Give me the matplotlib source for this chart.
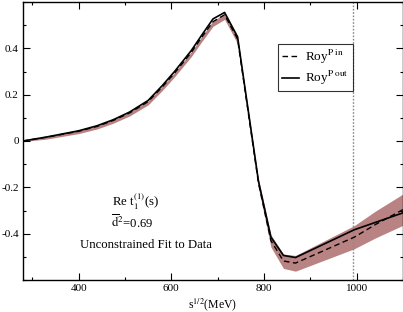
import matplotlib
matplotlib.use("Agg")
import matplotlib.pyplot as plt
from matplotlib.ticker import MultipleLocator, FuncFormatter

plt.rcParams['font.family'] = ['Liberation Serif', 'DejaVu Serif']
plt.rcParams['mathtext.fontset'] = 'stix'

# Roy P out (solid)
x_out = [280, 330, 400, 440, 475, 510, 550, 580, 607, 643, 665, 690, 715, 743, 788, 815, 842, 868, 995, 1041, 1103]
y_out = [0.0, 0.017, 0.044, 0.066, 0.092, 0.125, 0.175, 0.238, 0.300, 0.390, 0.455, 0.527, 0.555, 0.450, -0.172, -0.415, -0.494, -0.503, -0.383, -0.351, -0.308]

# Roy P in (dashed)
x_in = [280, 330, 400, 440, 475, 510, 550, 580, 607, 643, 665, 690, 715, 743, 788, 815, 842, 868, 995, 1041, 1103]
y_in = [0.0, 0.016, 0.042, 0.063, 0.089, 0.121, 0.170, 0.232, 0.293, 0.382, 0.446, 0.515, 0.545, 0.440, -0.180, -0.430, -0.518, -0.527, -0.415, -0.360, -0.293]

# uncertainty band
band_lo = [-0.002, 0.008, 0.032, 0.052, 0.077, 0.108, 0.156, 0.217, 0.277, 0.364, 0.427, 0.495, 0.525, 0.420, -0.202, -0.458, -0.550, -0.562, -0.465, -0.418, -0.361]
band_hi = [0.002, 0.019, 0.045, 0.066, 0.092, 0.124, 0.173, 0.235, 0.296, 0.385, 0.449, 0.519, 0.549, 0.448, -0.165, -0.405, -0.488, -0.494, -0.365, -0.302, -0.225]

threshold = 992
xticks = [400, 600, 800, 1000]
yticks = [-0.4, -0.2, 0.0, 0.2, 0.4]

fig = plt.figure(figsize=(4.03, 3.12), dpi=100)
ax = fig.add_axes([23/403, 1-280/312, 380/403, 278/312])

ax.fill_between(x_in, band_lo, band_hi, color='#b98383', lw=0, zorder=1)
ax.plot(x_in, y_in, color='black', ls=(0, (4, 2.5)), lw=1.0, zorder=3, label=r'Roy$^{\rm P\ in}$')
ax.plot(x_out, y_out, color='black', ls='-', lw=1.2, zorder=4, label=r'Roy$^{\rm P\ out}$')
ax.axvline(threshold, color='#888888', ls=(0, (1.2, 1.2)), lw=1.0, zorder=2)

ax.set_xlim(280, 1100)
ax.set_ylim(-0.6, 0.6)
ax.set_xticks(xticks)
ax.set_yticks(yticks)
ax.xaxis.set_minor_locator(MultipleLocator(100))
ax.yaxis.set_minor_locator(MultipleLocator(0.1))

def yfmt(v, pos):
    if abs(v) < 1e-9:
        return '0'
    return '%.1f' % v
ax.yaxis.set_major_formatter(FuncFormatter(yfmt))
ax.xaxis.set_major_formatter(FuncFormatter(lambda v, p: '%d' % v))

ax.tick_params(which='both', direction='in', top=True, right=True, labelsize=8, width=0.8)
ax.tick_params(which='major', length=5, pad=3)
ax.tick_params(which='minor', length=2.5)
for s in ax.spines.values():
    s.set_linewidth(1.0)

ax.set_xlabel(r's$^{1/2}$(MeV)', fontsize=8.5, labelpad=2)

leg = ax.legend(loc='upper right', bbox_to_anchor=(330/380, 236/278), borderaxespad=0,
                fontsize=9.5, frameon=True, fancybox=False, handlelength=1.3,
                handletextpad=0.5, borderpad=0.3, labelspacing=0.25)
leg.get_frame().set_edgecolor('black')
leg.get_frame().set_linewidth(0.8)

fig.text(112/403, 1-206/312, r'Re t$_1^{(1)}$(s)', fontsize=9.2, ha='left', va='baseline')
fig.text(111/403, 1-228/312, r'$\overline{\rm d}^2$=0.69', fontsize=9.2, ha='left', va='baseline')
fig.text(80/403, 1-248/312, 'Unconstrained Fit to Data', fontsize=9.2, ha='left', va='baseline')

fig.savefig('out.png', dpi=100)
